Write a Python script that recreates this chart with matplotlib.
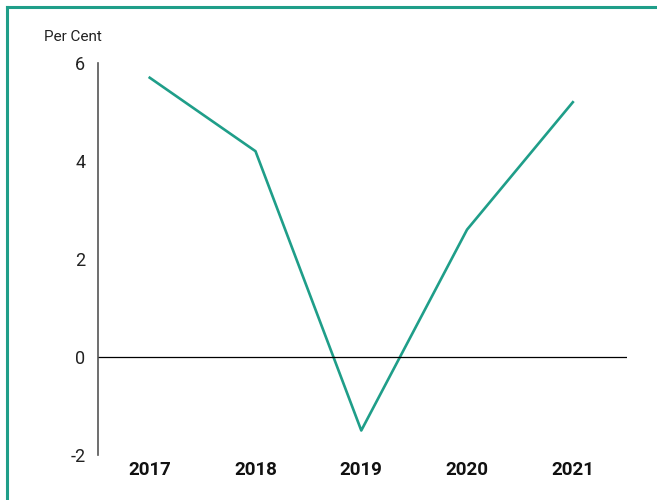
import matplotlib
matplotlib.use('Agg')
import matplotlib.pyplot as plt
from matplotlib.lines import Line2D

# dane
lata = ['2017', '2018', '2019', '2020', '2021']
wartosci = [5.7, 4.2, -1.5, 2.6, 5.2]
y_ticks = [-2, 0, 2, 4, 6]

kolor = '#1f9e89'
plt.rcParams['font.family'] = ['Roboto', 'DejaVu Sans']

fig = plt.figure(figsize=(6.57, 5.0), dpi=100)
ax = fig.add_axes([0.149, 0.09, 0.805, 0.784])

x = list(range(len(lata)))
ax.plot(x, wartosci, color=kolor, linewidth=1.9)
ax.axhline(0, color='black', linewidth=0.9)

ax.set_xlim(-0.49, 4.51)
ax.set_ylim(-2, 6)
ax.set_yticks(y_ticks)
ax.set_yticklabels([str(v) for v in y_ticks], fontsize=13, color='#222222')
ax.set_xticks(x)
ax.set_xticklabels(lata, fontsize=13.5, fontweight='bold', color='#111111')
ax.tick_params(axis='y', length=0, pad=9)
ax.tick_params(axis='x', length=0, pad=4)

for s in ['top', 'right', 'bottom']:
    ax.spines[s].set_visible(False)
ax.spines['left'].set_color('#555555')
ax.spines['left'].set_linewidth(1.2)

fig.text(44 / 657, 1 - 37 / 500, 'Per Cent', fontsize=11, color='#222222', va='center', ha='left')

# ramka (lewa i górna krawędź)
fig.add_artist(Line2D([7 / 657, 7 / 657], [0, 1 - 7 / 500], transform=fig.transFigure, color=kolor, linewidth=2.2))
fig.add_artist(Line2D([7 / 657, 1], [1 - 7 / 500, 1 - 7 / 500], transform=fig.transFigure, color=kolor, linewidth=2.2))

plt.savefig('out.png', dpi=100)
